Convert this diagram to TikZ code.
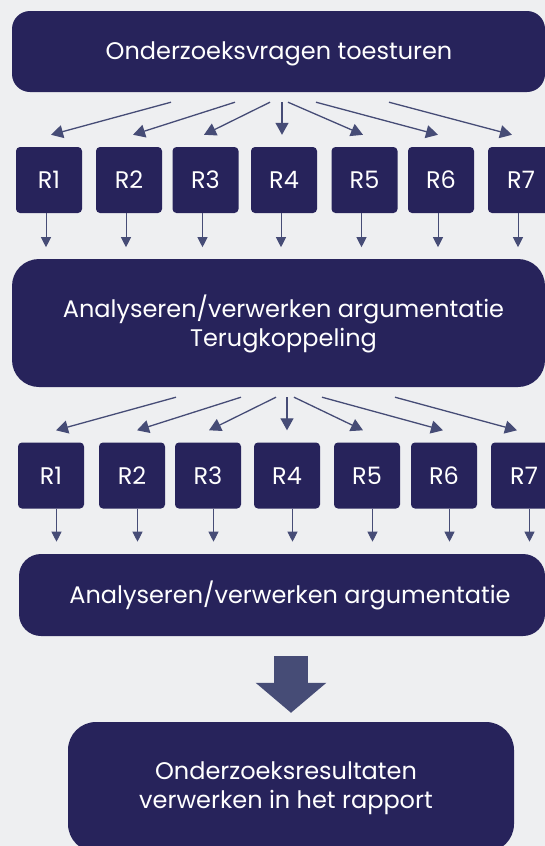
\documentclass[tikz,border=0pt]{standalone}
\usepackage{fontspec}
\setmainfont{Poppins}
\usetikzlibrary{arrows.meta,calc}
\definecolor{navy}{HTML}{27235B}
\definecolor{bgc}{HTML}{EEEFF1}
\definecolor{arr}{HTML}{464C76}
\begin{document}
\begin{tikzpicture}[x=1pt,y=-1pt,
  panel/.style={fill=navy, rounded corners=#1, inner sep=0pt},
  rbox/.style={fill=navy, rounded corners=4pt, inner sep=0pt,
    minimum width=66pt, minimum height=66pt, text=white,
    font=\fontsize{24}{29}\selectfont},
  label/.style={text=white, align=center, inner sep=0pt,
    font=\fontsize{24}{29}\selectfont},
  fan/.style={draw=arr, line width=1.3pt, -{Triangle[length=12pt,width=13pt]}},
  drop/.style={draw=arr, line width=0.9pt, -{Triangle[length=10pt,width=10pt]}},
  bigarrow/.style={draw=arr, line width=34pt, -{Triangle[length=30pt,width=69pt]}}]

\useasboundingbox (0,0) rectangle (545,846);
\fill[bgc] (0,0) rectangle (545,846);

% main panels
\node[panel=18pt, minimum width=533pt, minimum height=81pt] (T) at (278.5,51.5) {};
\node[label, anchor=base] (Tt) at (279,59.5) {Onderzoeksvragen toesturen};

\node[panel=27pt, minimum width=533pt, minimum height=128pt] (A) at (278.5,323) {};
\node[label] (At) at (283.5,324) {Analyseren/verwerken argumentatie\\Terugkoppeling};

\node[panel=22pt, minimum width=526pt, minimum height=82pt] (C) at (282,595) {};
\node[label, anchor=base] (Ct) at (290,603) {Analyseren/verwerken argumentatie};

\node[panel=28pt, minimum width=446pt, minimum height=130pt] (F) at (291,787) {};
\node[label] (Ft) at (286,788) {Onderzoeksresultaten\\verwerken in het rapport};

% first row of respondents
\foreach \i/\x in {1/49,2/129,3/205.5,4/284,5/364.5,6/441,7/521}
  \node[rbox] (R\i) at (\x,180) {R\i};
% second row of respondents
\foreach \i/\x in {1/51,2/132,3/208,4/287,5/367,6/444,7/524}
  \node[rbox] (S\i) at (\x,475.5) {R\i};

% fan out from the first panel
\foreach \i/\s/\t in {1/-107.5/2, 2/-43.5/4, 3/-8.5/-1.5, 4/3.5/-2,
                      5/9.5/-1.5, 6/37.5/-3, 7/110.5/-9}
  \draw[fan] ($(T.south)+(\s,10)$) -- ($(R\i.north)+(\t,-12)$);

% first row down into the analysis panel
\foreach \i in {1,...,7}
  \draw[drop] ($(R\i.south)+(-3,0)$) -- ($(R\i.south)+(-3,34)$);

% fan out from the analysis panel
\foreach \i/\s/\t in {1/-102.5/5, 2/-37.5/5, 3/-2.5/1, 4/8.5/0,
                      5/15.5/-4, 6/43.5/-1, 7/116.5/-7}
  \draw[fan] ($(A.south)+(\s,10)$) -- ($(S\i.north)+(\t,-12)$);

% second row down into the final analysis
\foreach \i in {1,...,7}
  \draw[drop] ($(S\i.south)+(5.5,0)$) -- ($(S\i.south)+(5.5,33)$);

% block arrow to the report
\draw[bigarrow] ($(F.north)+(0,-66)$) -- ($(F.north)+(0,-9)$);
\end{tikzpicture}
\end{document}
